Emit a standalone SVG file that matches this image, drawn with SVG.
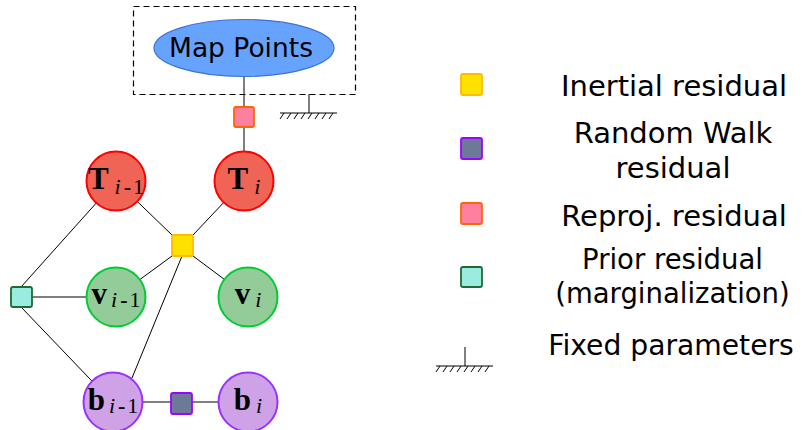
<svg xmlns="http://www.w3.org/2000/svg" width="808" height="430" viewBox="0 0 808 430">
  <style>
    .edge { stroke: #000; stroke-width: 1; fill: none; }
    .node-T { fill: #ef6454; stroke: #ff0000; stroke-width: 2; }
    .node-v { fill: #93cb99; stroke: #00cc33; stroke-width: 2; }
    .node-b { fill: #cfa2e8; stroke: #9b30ff; stroke-width: 2; }
    .f-inertial { fill: #ffe100; stroke: #ffbb00; stroke-width: 1.8; }
    .f-walk { fill: #6c7a98; stroke: #a000ff; stroke-width: 1.8; }
    .f-reproj { fill: #ff7f9f; stroke: #ff6600; stroke-width: 1.8; }
    .f-prior { fill: #99ecdf; stroke: #1f6b35; stroke-width: 1.8; }
    .math { font-family: "Liberation Serif", "DejaVu Serif", serif; fill: #000; }
    .sym { font-weight: bold; font-size: 31px; }
    .sub { font-size: 22px; }
    .it { font-style: italic; }
    .dash { font-weight: bold; }
    .label { font-family: "DejaVu Sans", "Liberation Sans", sans-serif; fill: #000; text-anchor: middle; }
    .ground { stroke: #000; stroke-width: 1; fill: none; }
  </style>
  <defs>
    <!-- ground / fixed-parameter symbol: stem, bar and hatching -->
    <g id="ground">
      <line class="ground" x1="0" y1="-19" x2="0" y2="0"/>
      <line class="ground" x1="-29" y1="0" x2="28" y2="0"/>
      <path class="ground" d="M-29,6 L-25,0 M-22,6 L-18,0 M-15,6 L-11,0 M-8,6 L-4,0 M-1,6 L3,0 M6,6 L10,0 M13,6 L17,0 M20,6 L24,0"/>
    </g>
  </defs>

  <!-- map point block -->
  <g id="map-points">
    <rect x="133.5" y="6.5" width="222" height="88" fill="none" stroke="#000" stroke-width="1.2" stroke-dasharray="6,4"/>
    <ellipse cx="244" cy="48" rx="90" ry="28.5" fill="#66a3ff" stroke="#3d72d6" stroke-width="1.2"/>
    <text class="label" x="241" y="57" font-size="26.5">Map Points</text>
  </g>
  <g id="map-fixed">
    <use href="#ground" x="309" y="113"/>
  </g>

  <!-- connectors -->
  <g id="connectors">
    <line class="edge" x1="244" y1="77" x2="244" y2="152"/>
    <line class="edge" x1="116" y1="181" x2="172" y2="235"/>
    <line class="edge" x1="244" y1="181" x2="193" y2="235"/>
    <line class="edge" x1="172" y1="256" x2="116" y2="297"/>
    <line class="edge" x1="182" y1="256" x2="132" y2="378"/>
    <line class="edge" x1="193" y1="256" x2="248" y2="297"/>
    <line class="edge" x1="21" y1="287" x2="116" y2="181"/>
    <line class="edge" x1="21" y1="297" x2="116" y2="297"/>
    <line class="edge" x1="21" y1="307" x2="112" y2="402"/>
    <line class="edge" x1="112" y1="402" x2="248" y2="402"/>
  </g>

  <!-- state nodes -->
  <g id="T-prev">
    <circle class="node-T" cx="116" cy="181" r="29.5"/>
    <text class="math" x="116" y="189" text-anchor="middle"><tspan class="sym">T</tspan><tspan class="sub it" dx="6" dy="4.5">i</tspan><tspan class="sub dash" dx="3">-</tspan><tspan class="sub" dx="2">1</tspan></text>
  </g>
  <g id="T-cur">
    <circle class="node-T" cx="244" cy="181" r="29.5"/>
    <text class="math" x="244" y="189" text-anchor="middle"><tspan class="sym">T</tspan><tspan class="sub it" dx="6" dy="4.5">i</tspan></text>
  </g>
  <g id="v-prev">
    <circle class="node-v" cx="116" cy="297" r="29.5"/>
    <text class="math" x="116" y="304" text-anchor="middle"><tspan class="sym">v</tspan><tspan class="sub it" dx="4" dy="3">i</tspan><tspan class="sub dash" dx="3">-</tspan><tspan class="sub" dx="2">1</tspan></text>
  </g>
  <g id="v-cur">
    <circle class="node-v" cx="248" cy="297" r="29.5"/>
    <text class="math" x="248" y="304" text-anchor="middle"><tspan class="sym">v</tspan><tspan class="sub it" dx="5" dy="3">i</tspan></text>
  </g>
  <g id="b-prev">
    <circle class="node-b" cx="113" cy="402" r="29.5"/>
    <text class="math" x="113" y="410" text-anchor="middle"><tspan class="sym">b</tspan><tspan class="sub it" dx="4" dy="3">i</tspan><tspan class="sub dash" dx="3">-</tspan><tspan class="sub" dx="2">1</tspan></text>
  </g>
  <g id="b-cur">
    <circle class="node-b" cx="248" cy="402" r="29.5"/>
    <text class="math" x="248" y="410" text-anchor="middle"><tspan class="sym">b</tspan><tspan class="sub it" dx="5" dy="3">i</tspan></text>
  </g>

  <!-- residual factors -->
  <g id="factor-reproj"><rect class="f-reproj" x="234" y="107" width="20" height="20" rx="2"/></g>
  <g id="factor-inertial"><rect class="f-inertial" x="172" y="235" width="21" height="21" rx="2"/></g>
  <g id="factor-prior"><rect class="f-prior" x="11" y="287" width="21" height="20" rx="2"/></g>
  <g id="factor-walk"><rect class="f-walk" x="171" y="393" width="21" height="21" rx="2"/></g>

  <!-- legend -->
  <g id="legend-inertial">
    <rect class="f-inertial" x="461" y="74" width="21" height="21" rx="2"/>
    <text class="label" x="674" y="96" font-size="29">Inertial residual</text>
  </g>
  <g id="legend-walk">
    <rect class="f-walk" x="461" y="138" width="21" height="21" rx="2"/>
    <text class="label" x="673" y="143" font-size="29">Random Walk</text>
    <text class="label" x="673" y="178" font-size="29">residual</text>
  </g>
  <g id="legend-reproj">
    <rect class="f-reproj" x="461" y="203" width="21" height="21" rx="2"/>
    <text class="label" x="674" y="226" font-size="29">Reproj. residual</text>
  </g>
  <g id="legend-prior">
    <rect class="f-prior" x="461" y="267" width="21" height="20" rx="2"/>
    <text class="label" x="672.5" y="269" font-size="27.5">Prior residual</text>
    <text class="label" x="672.5" y="303" font-size="27.5">(marginalization)</text>
  </g>
  <g id="legend-fixed">
    <use href="#ground" x="465" y="366"/>
    <text class="label" x="671" y="355" font-size="28.2">Fixed parameters</text>
  </g>
</svg>
